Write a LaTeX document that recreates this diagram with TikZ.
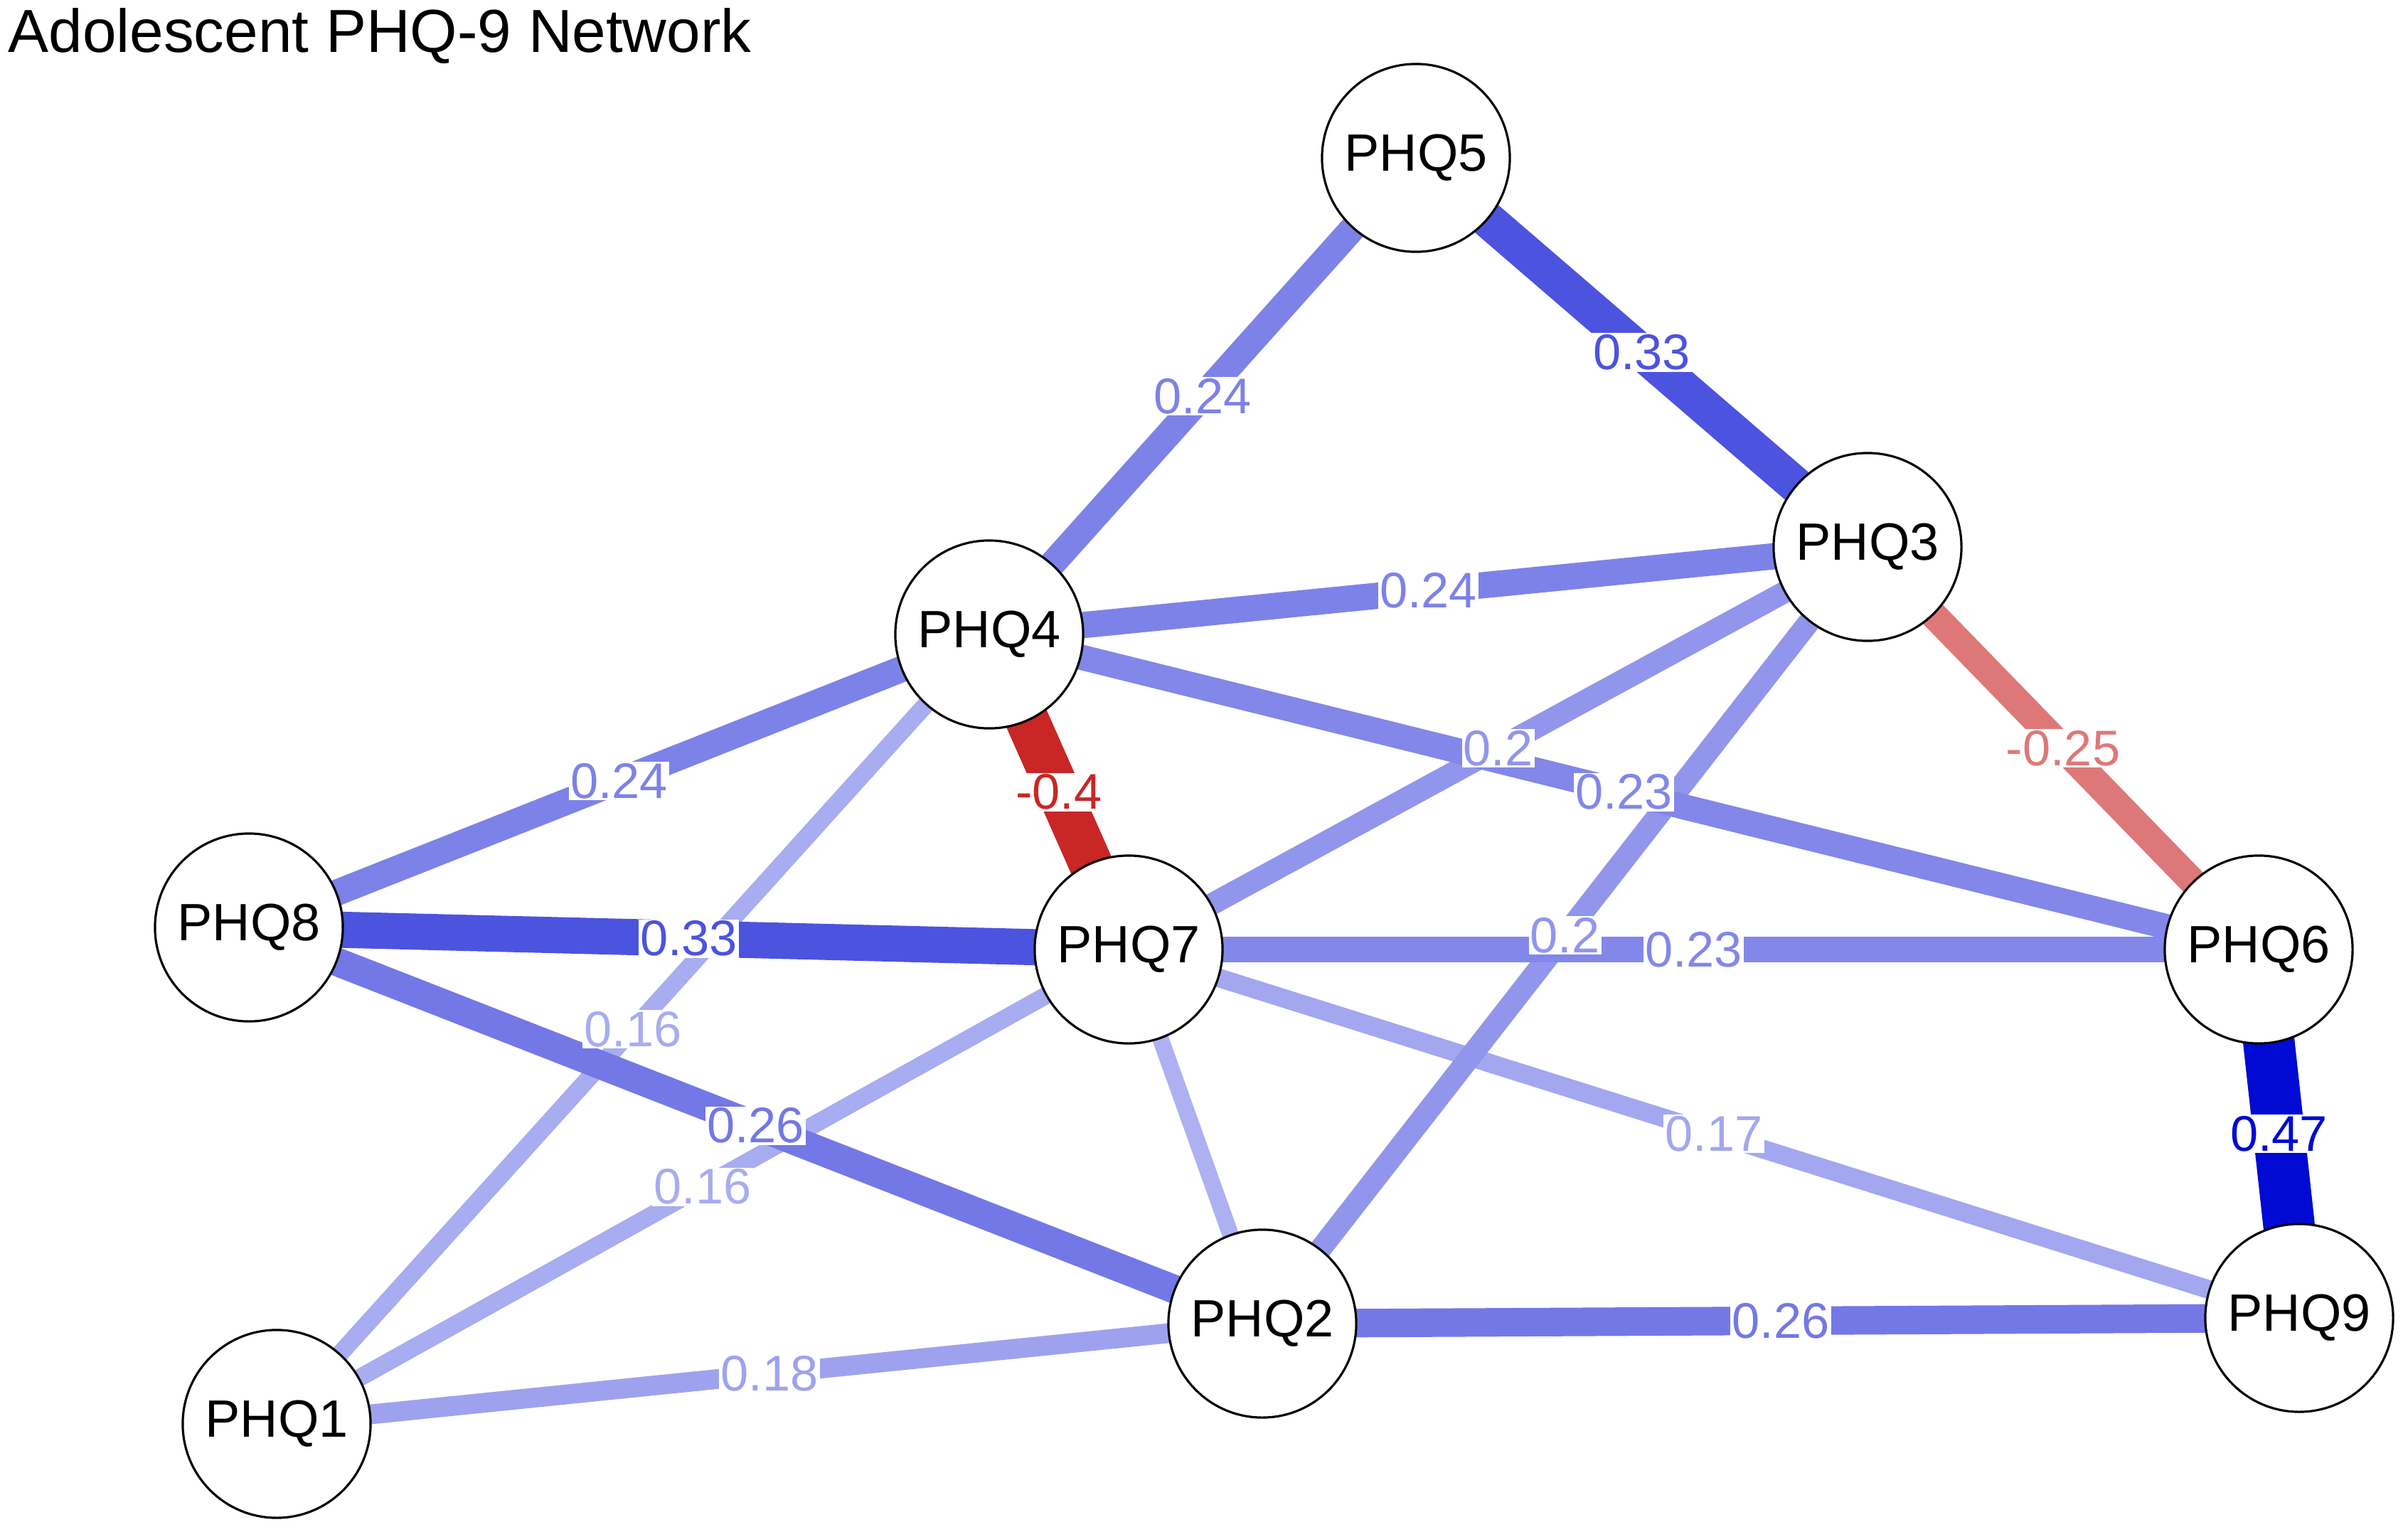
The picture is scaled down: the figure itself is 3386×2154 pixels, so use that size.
\documentclass[tikz,border=0pt]{standalone}
\usepackage{fontspec}
\setmainfont{Liberation Sans}
\usetikzlibrary{backgrounds}
\definecolor{mybl}{RGB}{0,10,210}
\definecolor{myrd}{RGB}{192,0,0}
\tikzset{
  var/.style={circle, draw=black, line width=0.9pt, fill=white, minimum size=2.64cm,
    inner sep=0pt, font=\fontsize{21}{25}\selectfont},
  wlab/.style={fill=white, inner sep=0.6pt, font=\fontsize{20}{24}\selectfont, text=#1},
  ttl/.style={font=\fontsize{24.3}{29}\selectfont, anchor=base west, inner sep=0pt},
  edgeline/.style={line cap=butt}
}
\begin{document}
\begin{tikzpicture}[x=0.01cm,y=-0.01cm]
\useasboundingbox (0,0) rectangle (3386,2154);
\node[ttl] (title) at (11,73) {Adolescent PHQ-9 Network};

\node[var] (p5) at (1991,222) {PHQ5};
\node[var] (p3) at (2626,769) {PHQ3};
\node[var] (p4) at (1391,892) {PHQ4};
\node[var] (p8) at (350,1304) {PHQ8};
\node[var] (p7) at (1587,1335) {PHQ7};
\node[var] (p6) at (3176,1335) {PHQ6};
\node[var] (p9) at (3233,1853) {PHQ9};
\node[var] (p2) at (1775,1861) {PHQ2};
\node[var] (p1) at (389,2002) {PHQ1};

\begin{scope}[on background layer]
\draw[edgeline, line width=6.6pt, draw=mybl!32!white] (p7.center) -- (p2.center);
\draw[edgeline, line width=7pt, draw=mybl!34!white] (p4.center) -- (p1.center);
\draw[edgeline, line width=7pt, draw=mybl!34!white] (p7.center) -- (p1.center);
\draw[edgeline, line width=7.45pt, draw=mybl!36!white] (p7.center) -- (p9.center);
\draw[edgeline, line width=7.9pt, draw=mybl!38!white] (p1.center) -- (p2.center);
\draw[edgeline, line width=8.75pt, draw=mybl!43!white] (p3.center) -- (p7.center);
\draw[edgeline, line width=8.75pt, draw=mybl!43!white] (p3.center) -- (p2.center);
\draw[edgeline, line width=10.1pt, draw=mybl!49!white] (p4.center) -- (p6.center);
\draw[edgeline, line width=10.1pt, draw=mybl!49!white] (p7.center) -- (p6.center);
\draw[edgeline, line width=10.5pt, draw=mybl!51!white] (p5.center) -- (p4.center);
\draw[edgeline, line width=10.5pt, draw=mybl!51!white] (p4.center) -- (p3.center);
\draw[edgeline, line width=10.5pt, draw=mybl!51!white] (p4.center) -- (p8.center);
\draw[edgeline, line width=10.95pt, draw=myrd!53!white] (p3.center) -- (p6.center);
\draw[edgeline, line width=11.4pt, draw=mybl!55!white] (p8.center) -- (p2.center);
\draw[edgeline, line width=11.4pt, draw=mybl!55!white] (p2.center) -- (p9.center);
\draw[edgeline, line width=14.45pt, draw=mybl!70!white] (p5.center) -- (p3.center);
\draw[edgeline, line width=14.45pt, draw=mybl!70!white] (p8.center) -- (p7.center);
\draw[edgeline, line width=17.5pt, draw=myrd!85!white] (p4.center) -- (p7.center);
\draw[edgeline, line width=20.6pt, draw=mybl] (p6.center) -- (p9.center);
\end{scope}

\path (p4) -- (p1) node[midway, wlab=mybl!34!white] (l41) {0.16};
\path (p7) -- (p1) node[midway, wlab=mybl!34!white] (l71) {0.16};
\path (p7) -- (p9) node[midway, wlab=mybl!36!white] (l79) {0.17};
\path (p1) -- (p2) node[midway, wlab=mybl!38!white] (l12) {0.18};
\path (p3) -- (p7) node[midway, wlab=mybl!43!white] (l37) {0.2};
\path (p3) -- (p2) node[midway, wlab=mybl!43!white] (l32) {0.2};
\path (p4) -- (p6) node[midway, wlab=mybl!49!white] (l46) {0.23};
\path (p7) -- (p6) node[midway, wlab=mybl!49!white] (l76) {0.23};
\path (p5) -- (p4) node[midway, wlab=mybl!51!white] (l54) {0.24};
\path (p4) -- (p3) node[midway, wlab=mybl!51!white] (l43) {0.24};
\path (p4) -- (p8) node[midway, wlab=mybl!51!white] (l48) {0.24};
\path (p3) -- (p6) node[midway, wlab=myrd!53!white] (l36) {-0.25};
\path (p8) -- (p2) node[midway, wlab=mybl!55!white] (l82) {0.26};
\path (p2) -- (p9) node[midway, wlab=mybl!55!white] (l29) {0.26};
\path (p5) -- (p3) node[midway, wlab=mybl!70!white] (l53) {0.33};
\path (p8) -- (p7) node[midway, wlab=mybl!70!white] (l87) {0.33};
\path (p4) -- (p7) node[midway, wlab=myrd!85!white] (l47) {-0.4};
\path (p6) -- (p9) node[midway, wlab=mybl] (l69) {0.47};
\end{tikzpicture}
\end{document}
